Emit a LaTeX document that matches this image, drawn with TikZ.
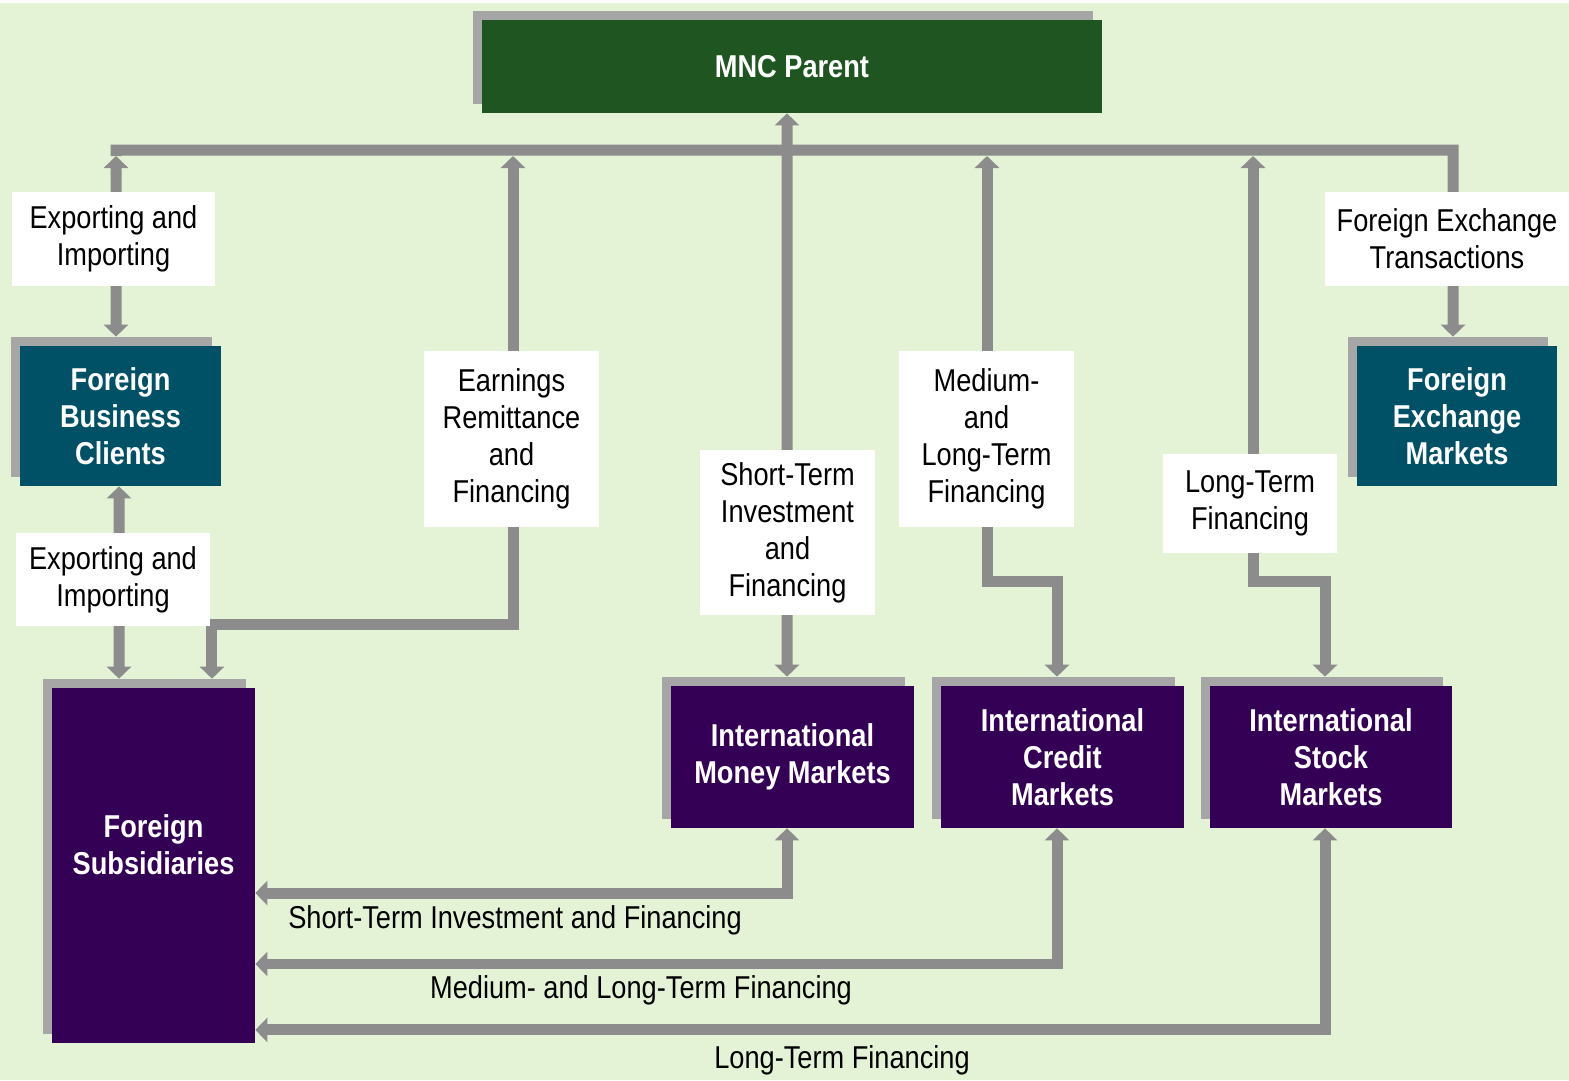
\documentclass[tikz,border=0pt]{standalone}
\usepackage{fontspec}
\setmainfont{Liberation Sans}[FakeStretch=0.86]
\usepackage{tikz}
\usetikzlibrary{arrows.meta}
\usetikzlibrary{shadows}

\definecolor{bggreen}{HTML}{E4F3D6}
\definecolor{parentgreen}{HTML}{1F5520}
\definecolor{tealblue}{HTML}{005066}
\definecolor{marketpurple}{HTML}{330055}
\definecolor{shadowgray}{HTML}{A6A6A6}
\definecolor{linegray}{HTML}{8C8C8C}

\begin{document}
\begin{tikzpicture}[
        x=0.02cm, y=-0.02cm,
        >={Triangle[width=0.48cm,length=0.24cm]},
        font=\fontsize{18}{21}\selectfont,
        boxnode/.style={rectangle, align=center, inner sep=0pt, text=white, font=\fontsize{18}{21}\selectfont\bfseries,
            general shadow={fill=shadowgray, shadow xshift=-0.18cm, shadow yshift=0.18cm}},
        parentnode/.style={boxnode, fill=parentgreen, minimum width=12.4cm, minimum height=1.86cm},
        clientnode/.style={boxnode, fill=tealblue, minimum width=4.02cm, minimum height=2.8cm},
        marketnode/.style={boxnode, fill=marketpurple, minimum width=4.86cm, minimum height=2.84cm},
        labelnode/.style={rectangle, fill=white, align=center, inner sep=0pt},
        flow/.style={draw=linegray, line width=0.22cm},
        ]
        \useasboundingbox (0,0) rectangle (1569,1080);
        \fill[bggreen] (0,3) rectangle (1569,1080);

        %Boxes
        \node[parentnode] (mnc) at (792,66.5)   {MNC Parent};
        \node[clientnode] (fbc) at (120.5,416)  {Foreign\\Business\\Clients};
        \node[clientnode] (fem) at (1457,416)   {Foreign\\Exchange\\Markets};
        \node[boxnode, fill=marketpurple, minimum width=4.06cm, minimum height=7.1cm, text depth=0.85cm]
                          (fs)  at (153.5,865.5) {Foreign\\Subsidiaries};
        \node[marketnode] (imm) at (792.5,757)  {International\\Money Markets};
        \node[marketnode] (icm) at (1062.5,757) {International\\Credit\\Markets};
        \node[marketnode] (ism) at (1331,757)   {International\\Stock\\Markets};

        %Junctions under the bus
        \coordinate (jexp)  at (116,156);
        \coordinate (jearn) at (513,156);
        \coordinate (jmed)  at (987,156);
        \coordinate (jlong) at (1253,156);
        \coordinate (busr)  at (1453,150);

        %Lines
        \draw[flow, ->]  (jexp) -- (jexp |- busr) -- (busr) -- ([xshift=-0.08cm,yshift=0.18cm]fem.north);
        \draw[flow, <->] ([xshift=-0.09cm,yshift=0.18cm]fbc.north) -- (jexp);
        \draw[flow, <->] ([xshift=-0.1cm]mnc.south) -- ([xshift=-0.11cm,yshift=0.18cm]imm.north);
        \draw[flow, <->] ([xshift=1.17cm,yshift=0.18cm]fs.north) -- ++(0,-54) -| (jearn);
        \draw[flow, <->] ([xshift=-0.11cm,yshift=0.18cm]icm.north) -- ++(0,-95) -| (jmed);
        \draw[flow, <->] ([xshift=-0.12cm,yshift=0.18cm]ism.north) -- ++(0,-95) -| (jlong);
        \draw[flow, <->] ([xshift=-0.03cm]fbc.south) -- ([xshift=-0.69cm,yshift=0.18cm]fs.north);

        \draw[flow, <->] ([xshift=-0.11cm]imm.south) |- ([yshift=-0.55cm]fs.east);
        \draw[flow, <->] ([xshift=-0.11cm]icm.south) |- ([yshift=-1.97cm]fs.east);
        \draw[flow, <->] ([xshift=-0.12cm]ism.south) |- ([yshift=-3.29cm]fs.east);

        %Labels
        \node[labelnode, minimum width=4.06cm, minimum height=1.88cm] (expa) at (113.5,239)  {Exporting and\\Importing};
        \node[labelnode, minimum width=3.88cm, minimum height=1.86cm] (expb) at (113,579.5)  {Exporting and\\Importing};
        \node[labelnode, minimum width=3.5cm,  minimum height=3.52cm] (earn) at (511.5,439)  {Earnings\\Remittance\\and\\Financing};
        \node[labelnode, minimum width=3.5cm,  minimum height=3.3cm]  (stif) at (787.5,532.5) {Short-Term\\Investment\\and\\Financing};
        \node[labelnode, minimum width=3.5cm,  minimum height=3.52cm] (mltf) at (986.5,439)  {Medium-\\and\\Long-Term\\Financing};
        \node[labelnode, minimum width=3.48cm, minimum height=1.98cm] (ltf)  at (1250,503.5) {Long-Term\\Financing};
        \node[labelnode, minimum width=4.88cm, minimum height=1.88cm] (fxt)  at (1447,239)   {Foreign Exchange\\Transactions};

        \node (stbot) at (515,920)  {Short-Term Investment and Financing};
        \node (mlbot) at (641,990)  {Medium- and Long-Term Financing};
        \node (ltbot) at (842,1060) {Long-Term Financing};
    \end{tikzpicture}
\end{document}
